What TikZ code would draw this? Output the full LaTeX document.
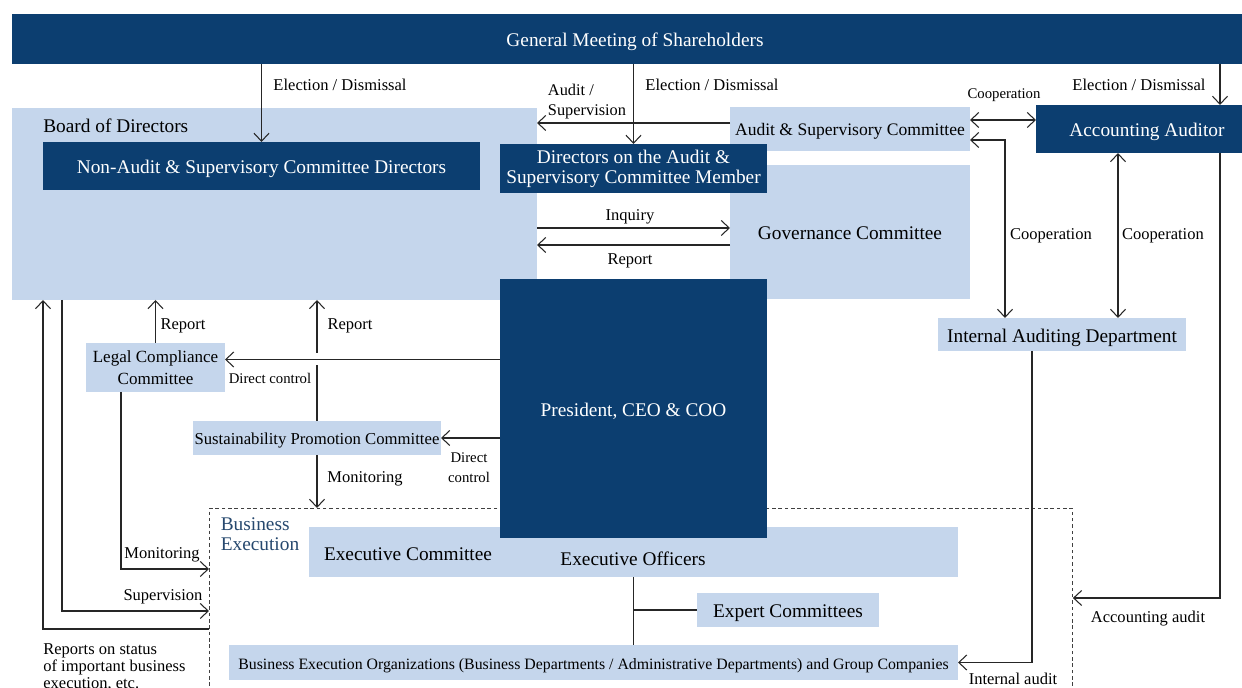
\documentclass[tikz,border=0pt]{standalone}
\usepackage{fontspec}
\setmainfont{Liberation Serif}
\usetikzlibrary{arrows.meta,calc,positioning}

\definecolor{navy}{RGB}{12,62,112}
\definecolor{lite}{RGB}{197,214,236}
\definecolor{bexec}{RGB}{38,72,110}

\newcommand\boxfnt{\fontsize{11}{11.4}\selectfont}
\newcommand\ascfnt{\fontsize{10}{11}\selectfont}
\newcommand\lccfnt{\fontsize{9.7}{12.5}\selectfont}
\newcommand\susfnt{\fontsize{9.5}{11}\selectfont}
\newcommand\orgfnt{\fontsize{9}{11}\selectfont}
\newcommand\tagfnt{\fontsize{9.4}{9.7}\selectfont}
\newcommand\audfnt{\fontsize{9.3}{11.4}\selectfont}
\newcommand\tinyfnt{\fontsize{8.4}{11.4}\selectfont}

\tikzset{
	darkbox/.style={fill=navy, text=white, inner sep=0pt, outer sep=0pt, font=\boxfnt, align=center},
	litebox/.style={fill=lite, inner sep=0pt, outer sep=0pt, font=\boxfnt, align=center},
	onerow/.style={text height=10pt, text depth=1pt},
	smallrow/.style={text height=8.6pt, text depth=0.8pt},
	sz/.style 2 args={minimum width=#1*0.02cm, minimum height=#2*0.02cm},
	lbl/.style={font=\tagfnt, inner sep=0pt, text depth=0pt},
	slbl/.style={font=\tinyfnt, inner sep=0pt, text depth=0pt},
	arr/.style={draw=black!85, line width=0.6pt, -{Straight Barb[length=1.6mm,width=3mm]}},
	dbl/.style={draw=black!85, line width=0.6pt, {Straight Barb[length=1.6mm,width=3mm]}-{Straight Barb[length=1.6mm,width=3mm]}},
	link/.style={draw=black!85, line width=0.6pt},
}

\begin{document}
\begin{tikzpicture}[x=0.02cm, y=-0.02cm]
	\useasboundingbox (0,0) rectangle (1242,688);

	\node[darkbox, onerow, sz={1246}{50}, anchor=north west] (gms) at (12,14) {General Meeting of Shareholders};
	\node[litebox, sz={525}{192}, anchor=north west] (board) at (12,108) {};
	\node[anchor=west, font=\boxfnt, inner sep=0pt] (boardlbl) at (43,126) {Board of Directors};
	\node[darkbox, onerow, sz={437}{48}, anchor=north west] (nonaudit) at (43,142) {Non-Audit \& Supervisory Committee Directors};
	\node[litebox, smallrow, sz={240}{44}, anchor=north west, font=\ascfnt] (asc) at (730,107) {Audit \& Supervisory Committee};
	\node[litebox, onerow, sz={240}{134}, anchor=north west] (gov) at (730,165) {Governance Committee};
	\node[darkbox, sz={267}{49}, anchor=north west] (dirac) at (500,144) {Directors on the Audit \&\\Supervisory Committee Member};
	\node[darkbox, onerow, sz={222}{48}, anchor=north west] (aa) at (1036,105) {Accounting Auditor};
	\node[litebox, onerow, sz={248}{33}, anchor=north west] (iad) at (938,318) {Internal Auditing Department};
	\node[litebox, sz={139}{49}, anchor=north west, font=\lccfnt] (lcc) at (86,343) {Legal Compliance\\Committee};
	\node[litebox, smallrow, sz={248}{34}, anchor=north west, font=\susfnt] (sus) at (193,421) {Sustainability Promotion Committee};
	\node[draw=black!75, line width=0.5pt, dash pattern=on 2pt off 1.6pt, sz={863}{200}, anchor=north west] (bizex) at (209,508) {};
	\node[litebox, sz={649}{50}, anchor=north west] (exec) at (309,527) {};
	\node[darkbox, onerow, sz={267}{259}, anchor=north west] (pres) at (500,279) {President, CEO \& COO};
	\node[litebox, onerow, sz={182}{34}, anchor=north west] (expert) at (697,593) {Expert Committees};
	\node[litebox, smallrow, sz={729}{35}, anchor=north west, font=\orgfnt] (bizorg) at (229,645) {Business Execution Organizations (Business Departments / Administrative Departments) and Group Companies};

	\node[font=\boxfnt, text=bexec, align=left, inner sep=0pt] (bexlbl) at (260,534) {Business\\Execution};
	\node[font=\boxfnt, inner sep=0pt, text depth=0pt] (execcom) at (408,554) {Executive Committee};
	\node[font=\boxfnt, inner sep=0pt, text depth=0pt] (execoff) at (633,559) {Executive Officers};

	\coordinate (aax) at ($(aa.north west)+(184,0)$);

	\draw[arr] (gms.south -| nonaudit.north) -- (nonaudit.north);
	\draw[arr] (gms.south -| dirac.north) -- (dirac.north);
	\draw[arr] (gms.south -| aax) -- (aax);
	\draw[arr] ($(asc.west)+(0,-6)$) -- ($(board.east |- asc.west)+(0,-6)$);
	\draw[arr] ($(board.east |- gov.west)+(0,-4)$) -- ($(gov.west)+(0,-4)$);
	\draw[arr] ($(gov.west)+(0,13)$) -- ($(board.east |- gov.west)+(0,13)$);
	\draw[dbl] ($(asc.east)+(0,-9)$) -- ($(aa.west |- asc.east)+(0,-9)$);
	\draw[dbl] ($(asc.east)+(0,11)$) -| ($(iad.north west)+(67,0)$);
	\draw[dbl] ($(aa.south west)+(82,0)$) -- ($(iad.north west)+(180,0)$);
	\draw[arr] (aa.south -| aax) |- (bizex.east |- 0,598);
	\draw[arr] ($(iad.south west)+(94,0)$) |- (bizorg.east);

	\draw[arr] (lcc.north) -- (lcc.north |- board.south);
	\draw[arr] (sus.north) -- (sus.north |- board.south);
	\fill[white] ($(sus.north)+(-3,-56)$) rectangle ($(sus.north)+(3,-68)$);
	\draw[arr] ($(pres.west |- lcc.east)+(0,-8)$) -- ($(lcc.east)+(0,-8)$);
	\draw[arr] (pres.west |- sus.east) -- (sus.east);
	\draw[arr] (sus.south) -- (sus.south |- bizex.north);
	\draw[arr] ($(lcc.south west)+(35,0)$) |- (bizex.west |- 0,569);
	\draw[arr] ($(board.south west)+(50,0)$) |- (bizex.west |- 0,611);
	\draw[arr] (bizex.west |- 0,629) -| ($(board.south west)+(31,0)$);

	\draw[link] (exec.south -| pres.south) -- (bizorg.north -| pres.south);
	\draw[link] (expert.west -| pres.south) -- (expert.west);

	\node[lbl] (ed1) at (340,85) {Election / Dismissal};
	\node[lbl] (ed2) at (712,85) {Election / Dismissal};
	\node[lbl] (ed3) at (1139,85) {Election / Dismissal};
	\node[font=\audfnt, inner sep=0pt, align=left, text depth=0pt] (audsup) at (587,100) {Audit /\\Supervision};
	\node[slbl] (coop1) at (1004,94) {Cooperation};
	\node[lbl] (inq) at (630,215) {Inquiry};
	\node[lbl] (rep1) at (630,259) {Report};
	\node[lbl] (coop2) at (1051,234) {Cooperation};
	\node[lbl] (coop3) at (1163,234) {Cooperation};
	\node[lbl] (rep2) at (183,324) {Report};
	\node[lbl] (rep3) at (350,324) {Report};
	\node[slbl] (dc1) at (270,378) {Direct control};
	\node[slbl, align=center] (dc2) at (469,468) {Direct\\control};
	\node[lbl] (mon1) at (365,477) {Monitoring};
	\node[lbl] (mon2) at (162,553) {Monitoring};
	\node[lbl] (sup) at (163,595) {Supervision};
	\node[lbl, align=left, anchor=west] (rep4) at (43,666) {Reports on status\\of important business\\execution, etc.};
	\node[lbl] (accaud) at (1148,617) {Accounting audit};
	\node[lbl] (intaud) at (1013,679) {Internal audit};
\end{tikzpicture}
\end{document}
